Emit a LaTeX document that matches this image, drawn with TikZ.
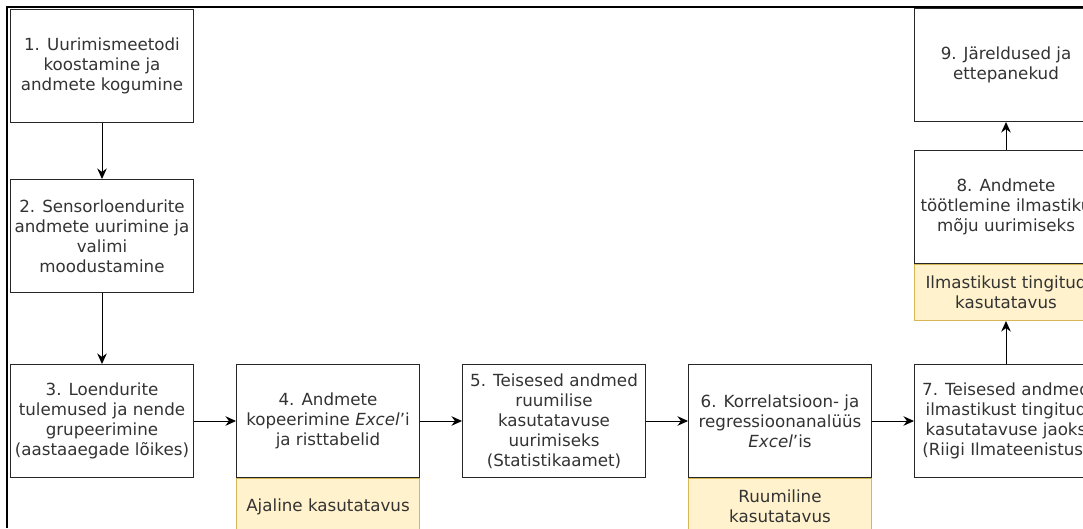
\documentclass[tikz,border=0pt]{standalone}
\usepackage{fontspec}
\setmainfont{DejaVu Sans}[ItalicFont={DejaVu Sans Oblique}]
\usepackage{tikz}
\usetikzlibrary{positioning, arrows.meta}
\definecolor{usagefill}{HTML}{FFF2CC}
\definecolor{usageline}{HTML}{D6B656}
\tikzset{
x=1pt, y=-1pt, % one unit is one pixel of the layout, y grows downwards
>={Stealth[length=10.5pt, width=9.5pt]}, % solid arrow heads
node distance=42pt, % gap between two neighbouring stages
every edge/.style={draw, ->, line width=1pt}, % the connectors
stage/.style={draw=black!85, line width=1pt, minimum width=183pt, minimum height=113pt, inner sep=0pt, align=center, text=black!80, font=\fontsize{16.7}{20}\selectfont}, % one step of the method
usage/.style={stage, fill=usagefill, draw=usageline, minimum height=56pt}, % the kind of usage found
}

\begin{document}
\begin{tikzpicture}
                \useasboundingbox (0,0) rectangle (1083,528);
                \clip (0,0) rectangle (1083,528);
                \draw[line width=2.6pt] (7,528) -- (7,7) -- (1083,7);

                \node[stage, anchor=north west] (s1) at (10,9) {1. Uurimismeetodi\\koostamine ja\\andmete kogumine};
                \node[stage, below=56pt of s1] (s2) {2. Sensorloendurite\\andmete uurimine ja\\valimi\\moodustamine};
                \node[stage, below=71pt of s2] (s3) {3. Loendurite\\tulemused ja nende\\grupeerimine\\(aastaaegade lõikes)};

                \node[stage, right=of s3] (s4) {4. Andmete\\kopeerimine \textit{Excel}'i\\ja risttabelid};
                \node[usage, below=0pt of s4] (u4) {Ajaline kasutatavus};
                \node[stage, right=of s4] (s5) {5. Teisesed andmed\\ruumilise\\kasutatavuse\\uurimiseks\\(Statistikaamet)};
                \node[stage, right=of s5] (s6) {6. Korrelatsioon- ja\\regressioonanalüüs\\\textit{Excel}'is};
                \node[usage, below=0pt of s6] (u6) {Ruumiline\\kasutatavus};
                \node[stage, right=of s6] (s7) {7. Teisesed andmed\\ilmastikust tingitud\\kasutatavuse jaoks\\(Riigi Ilmateenistus)};

                \node[usage, above=43pt of s7] (u8) {Ilmastikust tingitud\\kasutatavus};
                \node[stage, above=0pt of u8] (s8) {8. Andmete\\töötlemine ilmastiku\\mõju uurimiseks};
                \node[stage, above=28pt of s8] (s9) {9. Järeldused ja\\ettepanekud};
                \draw
                    (s1) edge (s2)
                    (s2) edge (s3)
                    (s3) edge (s4)
                    (s4) edge (s5)
                    (s5) edge (s6)
                    (s6) edge (s7)
                    %
                    (s7) edge (u8)
                    (s8) edge (s9)
                    ;
                \end{tikzpicture}
\end{document}
